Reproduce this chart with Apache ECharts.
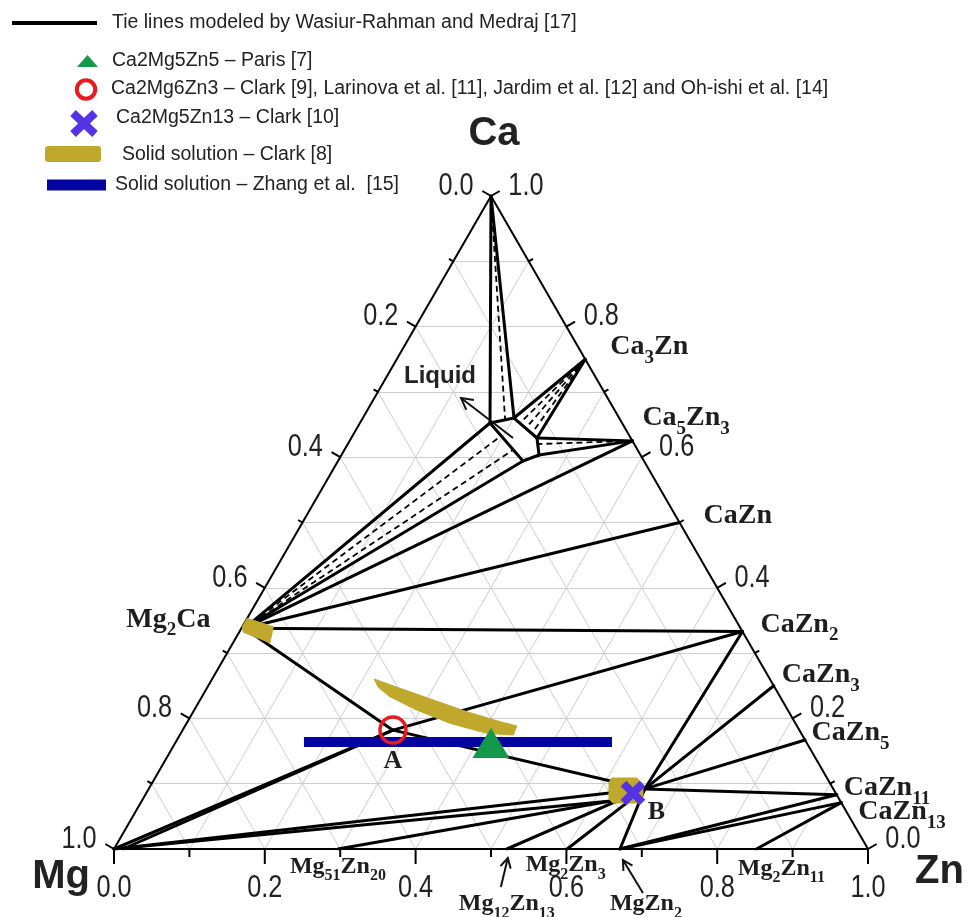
<!DOCTYPE html>
<html>
<head>
<meta charset="utf-8">
<title>Ca–Mg–Zn isothermal section</title>
<script src="https://cdn.jsdelivr.net/npm/echarts@6.0.0/dist/echarts.min.js"></script>
<style>
html, body { margin: 0; padding: 0; background: #fff; }
#chart { width: 968px; height: 917px; }
</style>
</head>
<body>
<div id="chart"></div>
<script>
// Every composition is a pair of mole fractions [xCa, xZn]; xMg = 1 - xCa - xZn.
const corners = { Ca: [1, 0], Mg: [0, 0], Zn: [0, 1] };

const gridSteps = [0.1, 0.2, 0.3, 0.4, 0.5, 0.6, 0.7, 0.8, 0.9];
const tickValues = [0, 0.1, 0.2, 0.3, 0.4, 0.5, 0.6, 0.7, 0.8, 0.9, 1];
const tickLabels = ['0.0', '0.2', '0.4', '0.6', '0.8', '1.0'];

// Binary compounds on the Mg–Ca, Ca–Zn and Mg–Zn edges
const binaryPhases = {
  Mg2Ca:    [0.338, 0.004],
  Ca3Zn:    [0.75, 0.25],
  Ca5Zn3:   [0.625, 0.375],
  CaZn:     [0.5, 0.5],
  CaZn2:    [0.333, 0.667],
  CaZn3:    [0.25, 0.75],
  CaZn5:    [0.167, 0.833],
  CaZn11:   [0.083, 0.917],
  CaZn13:   [0.071, 0.929],
  Mg51Zn20: [0, 0.297],
  Mg12Zn13: [0, 0.521],
  Mg2Zn3:   [0, 0.601],
  MgZn2:    [0, 0.671],
  Mg2Zn11:  [0, 0.852]
};

// Ternary compounds (A = Ca2Mg6Zn3, B = Ca2Mg5Zn13 solid-solution end) and tie-line ends
const ternaryPhases = {
  A:   [0.182, 0.279],
  B:   [0.092, 0.658],
  Bs:  [0.0735, 0.6224],
  MgS: [0, 0.012]
};

// Liquid pocket corners
const liquidCorners = {
  L1: [0.6524, 0.1725],
  L2: [0.66, 0.2005],
  L3: [0.6294, 0.2463],
  L4: [0.6034, 0.262],
  L5: [0.5942, 0.2453]
};
// Ends of the dashed tie lines on the liquid boundary
const liquidTargets = {
  D1: [0.6585, 0.1894],
  D2: [0.6524, 0.2123],
  D3: [0.6447, 0.224],
  D4: [0.6371, 0.2359],
  D5: [0.6202, 0.2522],
  D6: [0.6325, 0.1971],
  D7: [0.611, 0.2237]
};
const liquidArrow = { from: [0.6294, 0.2145], to: [0.6907, 0.1149] };

const tieLines = [
  ['Ca', 'L1'], ['Ca', 'L2'],
  ['Ca3Zn', 'L2'], ['Ca3Zn', 'L3'],
  ['Ca5Zn3', 'L3'], ['Ca5Zn3', 'L4'],
  ['Mg2Ca', 'L1'], ['Mg2Ca', 'L5'],
  ['L1', 'L2'], ['L2', 'L3'], ['L3', 'L4'], ['L4', 'L5'], ['L5', 'L1'],
  ['Mg2Ca', 'Ca5Zn3'], ['Mg2Ca', 'CaZn'], ['Mg2Ca', 'CaZn2'], ['Mg2Ca', 'A'],
  ['A', 'CaZn2'], ['A', 'B'], ['Mg', 'A'], ['MgS', 'A'],
  ['B', 'CaZn2'], ['B', 'CaZn3'], ['B', 'CaZn5'], ['B', 'CaZn11'],
  ['Mg', 'B'], ['Mg', 'Bs'], ['Mg51Zn20', 'Bs'], ['Mg12Zn13', 'B'],
  ['Mg2Zn3', 'B'], ['MgZn2', 'B'],
  ['MgZn2', 'CaZn11'], ['MgZn2', 'CaZn13'], ['Mg2Zn11', 'CaZn13']
];
const dashedTieLines = [
  ['Ca', 'D1'], ['Ca3Zn', 'D2'], ['Ca3Zn', 'D3'], ['Ca3Zn', 'D4'],
  ['Ca5Zn3', 'D5'], ['Mg2Ca', 'D6'], ['Mg2Ca', 'D7']
];

// Solid solution ranges
const clarkBandUpper = [[0.2603, 0.2147], [0.2461, 0.2563], [0.2282, 0.3094], [0.2103, 0.3626], [0.195, 0.4144], [0.1884, 0.4399]];
const clarkBandLower = [[0.1746, 0.4423], [0.1772, 0.4057], [0.1925, 0.3494], [0.2129, 0.295], [0.2332, 0.2494], [0.2476, 0.2267]];
const clarkMg2Ca = [[0.3404, 0], [0.3533, 0], [0.3404, 0.0411], [0.3159, 0.0489], [0.3319, 0.0056]];
const clarkB = [[0.1087, 0.6061], [0.1087, 0.6393], [0.098, 0.6526], [0.0812, 0.661], [0.0704, 0.6624], [0.0704, 0.6266], [0.0766, 0.6182], [0.1026, 0.6052]];
const zhangRange = [[0.1643, 0.1698], [0.1643, 0.5783]];

// Reported ternary compounds
const parisCa2Mg5Zn5 = [0.1623, 0.4188];
const ca2Mg6Zn3 = [0.1822, 0.2789];
const clarkCa2Mg5Zn13 = [0.0858, 0.6454];

const allPoints = Object.assign({}, corners, binaryPhases, ternaryPhases, liquidCorners, liquidTargets,
  { LiqTip: liquidArrow.to });

// ---------- geometry ----------
const H = Math.sqrt(3) / 2;
function toXY(p) { return [p[1] + p[0] / 2, p[0] * H]; }
function seg(a, b) { return { coords: [toXY(a), toXY(b)] }; }

const gridData = [];
gridSteps.forEach(t => {
  gridData.push(seg([t, 0], [t, 1 - t]));          // constant Ca
  gridData.push(seg([0, t], [1 - t, t]));          // constant Zn
  gridData.push(seg([0, 1 - t], [1 - t, 0]));      // constant Mg
});
const edgeData = [seg(corners.Mg, corners.Zn), seg(corners.Zn, corners.Ca), seg(corners.Ca, corners.Mg)];

const SERIF = '"Liberation Serif", "Times New Roman", serif';
const SANS = '"Liberation Sans", Arial, sans-serif';
const INK = '#1e1e1e';
const GOLD = '#bfa82c';
const NAVY = '#0404a0';
const GREEN = '#14984a';
const RED = '#ea1a1f';
const VIOLET = '#5533e4';

// label layout: text, anchor point, dx, dy (to text centre line), align, kind
const annotations = [
  ['Ca', 'Ca', 3, -62, 'center', 'vertex'],
  ['Mg', 'Mg', -24, 28, 'right', 'vertex'],
  ['Zn', 'Zn', 47, 23, 'left', 'vertex'],
  ['Mg2Ca', 'Mg2Ca', -34, -8, 'right', 'phase'],
  ['Ca3Zn', 'Ca3Zn', 25, -11, 'left', 'phase'],
  ['Ca5Zn3', 'Ca5Zn3', 10, -22, 'left', 'phase'],
  ['CaZn', 'CaZn', 24, -6, 'left', 'phase'],
  ['CaZn2', 'CaZn2', 18, -6, 'left', 'phase'],
  ['CaZn3', 'CaZn3', 8, -10, 'left', 'phase'],
  ['CaZn5', 'CaZn5', 6.5, -6, 'left', 'phase'],
  ['CaZn11', 'CaZn11', 7, -6, 'left', 'phase'],
  ['CaZn13', 'CaZn13', 17, 10, 'left', 'phase'],
  ['Mg51Zn20', 'Mg51Zn20', 0, 18.5, 'center', 'phaseSmall'],
  ['Mg12Zn13', 'Mg12Zn13', 0, 56, 'center', 'phaseSmall'],
  ['Mg2Zn3', 'Mg2Zn3', -1.5, 17, 'center', 'phaseSmall'],
  ['MgZn2', 'MgZn2', -10, 56, 'left', 'phaseSmall'],
  ['Mg2Zn11', 'Mg2Zn11', 25, 20.5, 'center', 'phaseSmall'],
  ['A', 'A', 0, 31.5, 'center', 'point'],
  ['B', 'B', 11.5, 23.5, 'center', 'point'],
  ['Liquid', 'LiqTip', -57, -22, 'left', 'note']
];

// pointer arrows below the Mg–Zn edge: anchor point, tail offset, tip offset
const edgeArrows = [
  ['Mg12Zn13', [-6, 38], [1, 9]],
  ['MgZn2', [23, 44], [3, 11]]
];

const labelKinds = {
  phase: { size: 28, sub: 19, pad: 15.5 },
  phaseSmall: { size: 24, sub: 16, pad: 13.6 }
};

function formulaRich(name) {
  return name.replace(/([A-Za-z]+)|(\d+)/g, (m, a, d) => a ? '{m|' + a + '}' : '{s|' + d + '}');
}

function renderAnnotation(params, api) {
  const a = annotations[api.value(2)];
  const p = api.coord([api.value(0), api.value(1)]);
  const x = p[0] + a[2];
  const y = p[1] + a[3];
  const kind = a[5];
  if (kind === 'phase' || kind === 'phaseSmall') {
    const k = labelKinds[kind];
    const lh = k.size + 2;
    return {
      type: 'text', x: x, y: y - lh / 2,
      style: {
        text: formulaRich(a[0]), x: 0, y: 0, align: a[4], verticalAlign: 'top', fill: INK,
        rich: {
          m: { fontFamily: SERIF, fontWeight: 'bold', fontSize: k.size, lineHeight: lh, verticalAlign: 'top', fill: INK },
          s: { fontFamily: SERIF, fontWeight: 'bold', fontSize: k.sub, lineHeight: k.sub, verticalAlign: 'top', padding: [k.pad, 0, 0, 0], fill: INK }
        }
      }
    };
  }
  const font = kind === 'vertex' ? { fontFamily: SANS, fontWeight: 'bold', fontSize: 40, fill: '#222' }
    : kind === 'point' ? { fontFamily: SERIF, fontWeight: 'bold', fontSize: 26, fill: INK }
    : { fontFamily: SANS, fontWeight: 'bold', fontSize: 24, fill: '#222' };
  return {
    type: 'text', x: x, y: y,
    style: Object.assign({ text: a[0], x: 0, y: 0, align: a[4], verticalAlign: 'middle' }, font)
  };
}

function arrowHead(tip, tail, len) {
  const ang = Math.atan2(tail[1] - tip[1], tail[0] - tip[0]);
  const wing = 0.5;
  return [
    [tip[0] + len * Math.cos(ang + wing), tip[1] + len * Math.sin(ang + wing)],
    tip,
    [tip[0] + len * Math.cos(ang - wing), tip[1] + len * Math.sin(ang - wing)]
  ];
}

function renderArrows(params, api) {
  const children = [];
  const stroke = { stroke: '#111', lineWidth: 2, fill: null };
  edgeArrows.forEach(ar => {
    const p = api.coord(toXY(allPoints[ar[0]]));
    const tail = [p[0] + ar[1][0], p[1] + ar[1][1]];
    const tip = [p[0] + ar[2][0], p[1] + ar[2][1]];
    children.push({ type: 'line', shape: { x1: tail[0], y1: tail[1], x2: tip[0], y2: tip[1] }, style: stroke });
    children.push({ type: 'polyline', shape: { points: arrowHead(tip, tail, 11) }, style: stroke });
  });
  const from = api.coord(toXY(liquidArrow.from));
  const to = api.coord(toXY(liquidArrow.to));
  children.push({ type: 'line', shape: { x1: from[0], y1: from[1], x2: to[0], y2: to[1] }, style: stroke });
  children.push({ type: 'polyline', shape: { points: arrowHead(to, from, 13) }, style: stroke });
  return { type: 'group', children: children };
}

function renderAxes(params, api) {
  const children = [];
  const sides = [
    { at: t => [0, t], dir: [0, 1], major: 15, minor: 8, dist: 39, align: 'center' },            // xZn
    { at: t => [1 - t, 0], dir: [-0.866, -0.5], major: 10, minor: 5, dist: 20, align: 'right' }, // xMg
    { at: t => [t, 1 - t], dir: [0.866, -0.5], major: 10, minor: 5, dist: 20, align: 'left' }    // xCa
  ];
  sides.forEach(s => {
    tickValues.forEach((t, i) => {
      const p = api.coord(toXY(s.at(t)));
      const major = i % 2 === 0;
      const len = major ? s.major : s.minor;
      children.push({
        type: 'line',
        shape: { x1: p[0], y1: p[1], x2: p[0] + s.dir[0] * len, y2: p[1] + s.dir[1] * len },
        style: { stroke: '#000', lineWidth: 2 }
      });
      if (major) {
        children.push({
          type: 'text', x: p[0] + s.dir[0] * s.dist, y: p[1] + s.dir[1] * s.dist, scaleX: 0.79,
          style: { text: tickLabels[i / 2], x: 0, y: 0, align: s.align, verticalAlign: 'middle',
                   fontFamily: SANS, fontSize: 32, fill: '#222' }
        });
      }
    });
  });
  return { type: 'group', children: children };
}

function polygonSeries(name, shapes, color, z) {
  return {
    type: 'custom', name: name, coordinateSystem: 'cartesian2d', z: z, silent: true, clip: false,
    data: shapes.map((s, i) => [0, 0, i]),
    renderItem: (params, api) => ({
      type: 'polygon',
      shape: { points: shapes[api.value(2)].map(pt => api.coord(toXY(pt))) },
      style: { fill: color, stroke: color, lineWidth: 1 }
    })
  };
}

const chart = echarts.init(document.getElementById('chart'), null, { renderer: 'canvas' });

const option = {
  animation: false,
  backgroundColor: '#fff',
  grid: { left: 114, right: 100, top: 196, bottom: 68 },
  xAxis: { type: 'value', min: 0, max: 1, show: false },
  yAxis: { type: 'value', min: 0, max: H, show: false },
  graphic: {
    elements: [
      { type: 'line', shape: { x1: 12, y1: 23, x2: 97, y2: 23 }, style: { stroke: '#000', lineWidth: 4 } },
      { type: 'text', x: 112, y: 23, style: { text: 'Tie lines modeled by Wasiur-Rahman and Medraj [17]', verticalAlign: 'middle', fontFamily: SANS, fontSize: 19.5, fill: '#222' } },
      { type: 'polygon', shape: { points: [[77, 67], [98, 67], [87.5, 55]] }, style: { fill: GREEN } },
      { type: 'text', x: 112, y: 61, style: { text: 'Ca2Mg5Zn5 – Paris [7]', verticalAlign: 'middle', fontFamily: SANS, fontSize: 19.5, fill: '#222' } },
      { type: 'circle', shape: { cx: 86, cy: 89.5, r: 9.2 }, style: { fill: null, stroke: RED, lineWidth: 4 } },
      { type: 'text', x: 111, y: 89, style: { text: 'Ca2Mg6Zn3 – Clark [9], Larinova et al. [11], Jardim et al. [12] and Oh-ishi et al. [14]', verticalAlign: 'middle', fontFamily: SANS, fontSize: 19.5, fill: '#222' } },
      { type: 'line', shape: { x1: 73, y1: 113, x2: 95, y2: 134 }, style: { stroke: VIOLET, lineWidth: 8 } },
      { type: 'line', shape: { x1: 95, y1: 113, x2: 73, y2: 134 }, style: { stroke: VIOLET, lineWidth: 8 } },
      { type: 'text', x: 116, y: 118, style: { text: 'Ca2Mg5Zn13 – Clark [10]', verticalAlign: 'middle', fontFamily: SANS, fontSize: 19.5, fill: '#222' } },
      { type: 'rect', shape: { x: 45, y: 146, width: 56, height: 16, r: 3 }, style: { fill: GOLD } },
      { type: 'text', x: 122, y: 155, style: { text: 'Solid solution – Clark [8]', verticalAlign: 'middle', fontFamily: SANS, fontSize: 19.5, fill: '#222' } },
      { type: 'rect', shape: { x: 47, y: 179.5, width: 59, height: 11 }, style: { fill: NAVY } },
      { type: 'text', x: 115, y: 185, style: { text: 'Solid solution – Zhang et al.  [15]', verticalAlign: 'middle', fontFamily: SANS, fontSize: 19.5, fill: '#222' } }
    ]
  },
  series: [
    {
      type: 'lines', name: 'grid', coordinateSystem: 'cartesian2d', z: 1, silent: true,
      lineStyle: { color: '#cdcdcd', width: 1, opacity: 1 }, data: gridData
    },
    {
      type: 'lines', name: 'edges', coordinateSystem: 'cartesian2d', z: 2, silent: true,
      lineStyle: { color: '#000', width: 2, opacity: 1 }, data: edgeData
    },
    {
      type: 'lines', name: 'Tie lines modeled by Wasiur-Rahman and Medraj [17]', coordinateSystem: 'cartesian2d', z: 3, silent: true,
      lineStyle: { color: '#000', width: 3, opacity: 1, cap: 'round' },
      data: tieLines.map(l => seg(allPoints[l[0]], allPoints[l[1]]))
    },
    {
      type: 'lines', name: 'dashed tie lines', coordinateSystem: 'cartesian2d', z: 3, silent: true,
      lineStyle: { color: '#000', width: 1.8, opacity: 1, type: [6, 4] },
      data: dashedTieLines.map(l => seg(allPoints[l[0]], allPoints[l[1]]))
    },
    polygonSeries('Solid solution – Clark [8]', [clarkBandUpper.concat(clarkBandLower), clarkMg2Ca, clarkB], GOLD, 4),
    {
      type: 'lines', name: 'Solid solution – Zhang et al. [15]', coordinateSystem: 'cartesian2d', z: 5, silent: true,
      lineStyle: { color: NAVY, width: 10, opacity: 1 }, data: [seg(zhangRange[0], zhangRange[1])]
    },
    {
      type: 'scatter', name: 'Ca2Mg6Zn3', z: 6, silent: true, symbol: 'circle', symbolSize: 26,
      itemStyle: { color: 'rgba(0,0,0,0)', borderColor: RED, borderWidth: 3.5, opacity: 1 },
      data: [toXY(ca2Mg6Zn3)]
    },
    {
      type: 'scatter', name: 'Ca2Mg5Zn5', z: 6, silent: true, symbol: 'triangle', symbolSize: [37, 30],
      itemStyle: { color: GREEN, opacity: 1 }, data: [toXY(parisCa2Mg5Zn5)]
    },
    {
      type: 'custom', name: 'Ca2Mg5Zn13', coordinateSystem: 'cartesian2d', z: 6, silent: true, clip: false,
      data: [toXY(clarkCa2Mg5Zn13)],
      renderItem: (params, api) => {
        const p = api.coord([api.value(0), api.value(1)]);
        const r = 9.5;
        const st = { stroke: VIOLET, lineWidth: 8 };
        return { type: 'group', children: [
          { type: 'line', shape: { x1: p[0] - r, y1: p[1] - r, x2: p[0] + r, y2: p[1] + r }, style: st },
          { type: 'line', shape: { x1: p[0] + r, y1: p[1] - r, x2: p[0] - r, y2: p[1] + r }, style: st }
        ] };
      }
    },
    {
      type: 'custom', name: 'axes', coordinateSystem: 'cartesian2d', z: 7, silent: true, clip: false,
      data: [[0, 0]], renderItem: renderAxes
    },
    {
      type: 'custom', name: 'arrows', coordinateSystem: 'cartesian2d', z: 8, silent: true, clip: false,
      data: [[0, 0]], renderItem: renderArrows
    },
    {
      type: 'custom', name: 'labels', coordinateSystem: 'cartesian2d', z: 9, silent: true, clip: false,
      data: annotations.map((a, i) => toXY(allPoints[a[1]]).concat([i])),
      renderItem: renderAnnotation
    }
  ]
};

chart.setOption(option);
</script>
</body>
</html>
